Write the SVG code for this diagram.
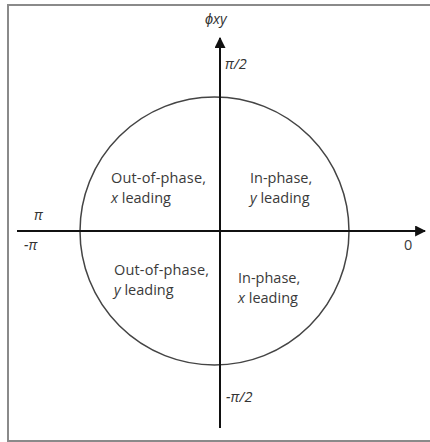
<svg xmlns="http://www.w3.org/2000/svg" width="430" height="442" viewBox="0 0 430 442">
<style>
.frame{fill:none;stroke:#8a8a8a;stroke-width:2}
.axis{stroke:#111;stroke-width:2;fill:none}
.circ{fill:none;stroke:#444;stroke-width:1.5}
.lbl{font-family:"Open Sans","Liberation Sans",sans-serif;font-size:14.5px;fill:#3a3a3a}
.ax{font-family:"Open Sans","Liberation Sans",sans-serif;font-size:14.5px;fill:#333;font-style:italic}
</style>
<defs>
<marker id="arr" viewBox="0 0 10 10" refX="9" refY="5" markerWidth="5.5" markerHeight="5.5" orient="auto" markerUnits="strokeWidth">
<path d="M0,0 L10,5 L0,10 Z" fill="#111"/>
</marker>
</defs>
<rect width="430" height="442" fill="#fff"/>
<path class="frame" d="M440,5 H8 V441 H440"/>
<g id="circle"><ellipse class="circ" cx="214.5" cy="231" rx="134.5" ry="134"/></g>
<g id="connectors">
<line class="axis" x1="17" y1="231" x2="425" y2="231" marker-end="url(#arr)"/>
<line class="axis" x1="220" y1="428" x2="220" y2="38" marker-end="url(#arr)"/>
</g>
<g id="axis-labels">
<text class="ax" x="205" y="24">ϕxy</text>
<text class="ax" x="225" y="69">π/2</text>
<text class="ax" x="226" y="402">-π/2</text>
<text class="ax" x="34" y="220">π</text>
<text class="ax" x="24" y="250">-π</text>
<text class="lbl" x="404" y="250">0</text>
</g>
<g id="q2"><text class="lbl" x="111" y="183" textLength="95">Out-of-phase,</text><text class="lbl" x="111" y="203"><tspan font-style="italic">x</tspan> leading</text></g>
<g id="q1"><text class="lbl" x="250" y="183">In-phase,</text><text class="lbl" x="250" y="203"><tspan font-style="italic">y</tspan> leading</text></g>
<g id="q3"><text class="lbl" x="114" y="275" textLength="95">Out-of-phase,</text><text class="lbl" x="114" y="295"><tspan font-style="italic">y</tspan> leading</text></g>
<g id="q4"><text class="lbl" x="238" y="283">In-phase,</text><text class="lbl" x="238" y="303"><tspan font-style="italic">x</tspan> leading</text></g>
</svg>
